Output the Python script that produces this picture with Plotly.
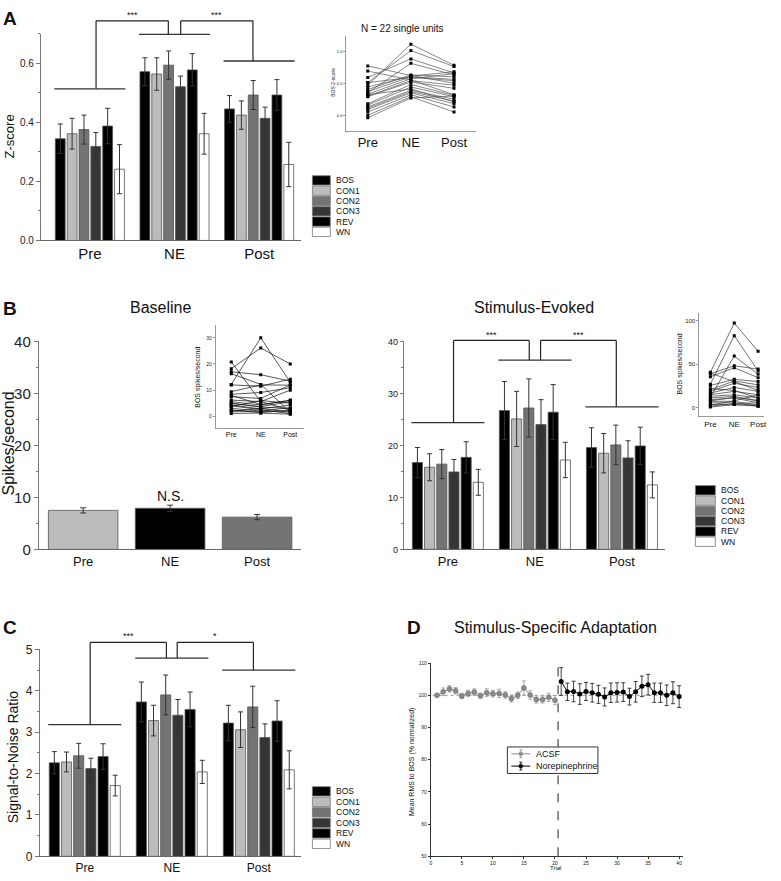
import plotly.graph_objects as go

W, H = 781, 881
FONT = "Liberation Sans, Arial, sans-serif"

groups = ["Pre", "NE", "Post"]
stimuli = ["BOS", "CON1", "CON2", "CON3", "REV", "WN"]
stim_colors = ["#000000", "#bcbcbc", "#747474", "#363636", "#000000", "#ffffff"]

# ---------------- Panel A : Z-score ----------------
zscore_mean = [
    [0.344, 0.571, 0.445],
    [0.361, 0.563, 0.424],
    [0.375, 0.593, 0.492],
    [0.318, 0.520, 0.413],
    [0.387, 0.577, 0.492],
    [0.241, 0.361, 0.257],
]
zscore_sem = [
    [0.050, 0.047, 0.045],
    [0.052, 0.055, 0.048],
    [0.049, 0.048, 0.049],
    [0.047, 0.036, 0.038],
    [0.060, 0.055, 0.052],
    [0.083, 0.069, 0.075],
]
zscore_bracket_levels = [0.513, 0.697, 0.607]
zscore_bracket_top = 0.743
zscore_stars = ["***", "***"]

# inset A: BOS z-score per single unit (Pre, NE, Post)
units_zscore = [
    (0.48, 1.12, 0.79), (0.52, 1.02, 0.77), (0.60, 0.89, 0.67), (0.36, 0.82, 0.64),
    (0.78, 0.63, 0.51), (0.70, 0.56, 0.33), (0.41, 0.64, 0.61), (0.38, 0.61, 0.57),
    (0.34, 0.58, 0.66), (0.31, 0.55, 0.48), (0.30, 0.53, 0.43), (0.19, 0.49, 0.32),
    (0.17, 0.45, 0.30), (0.14, 0.40, 0.26), (0.12, 0.38, 0.23), (0.10, 0.36, 0.19),
    (0.06, 0.33, 0.14), (0.01, 0.30, 0.06), (-0.03, 0.28, 0.31), (0.45, 0.62, 0.69),
    (0.33, 0.42, 0.22), (0.52, 0.60, 0.55),
]

# ---------------- Panel B : Baseline ----------------
baseline_mean = [7.5, 7.9, 6.2]
baseline_sem = [0.5, 0.6, 0.5]
baseline_colors = ["#bcbcbc", "#000000", "#747474"]
units_baseline = [
    (12.2, 30.0, 13.0), (18.2, 26.1, 20.0), (20.8, 5.6, 2.4), (17.0, 15.9, 13.4),
    (16.3, 12.2, 1.5), (12.0, 11.5, 14.2), (9.4, 12.0, 11.9), (8.4, 9.1, 10.9),
    (7.5, 6.8, 12.0), (6.2, 5.6, 10.0), (5.6, 4.3, 6.2), (4.9, 3.7, 5.6),
    (4.3, 2.8, 4.3), (3.7, 6.0, 5.0), (3.0, 2.0, 3.3), (2.4, 1.4, 2.4),
    (1.8, 3.0, 1.5), (1.1, 1.2, 0.8), (8.0, 4.5, 6.0), (4.0, 2.5, 1.0),
    (2.0, 1.8, 2.0), (5.0, 3.5, 3.0),
]

# ---------------- Panel B : Stimulus-evoked ----------------
evoked_mean = [
    [16.7, 26.7, 19.6],
    [15.8, 25.1, 18.5],
    [16.4, 27.2, 20.1],
    [14.9, 24.0, 17.6],
    [17.7, 26.4, 19.9],
    [12.9, 17.2, 12.4],
]
evoked_sem = [
    [2.9, 5.6, 3.8],
    [2.6, 5.3, 3.8],
    [2.8, 5.6, 3.8],
    [2.4, 4.8, 3.3],
    [3.0, 5.3, 3.6],
    [2.5, 3.4, 2.5],
]
evoked_bracket_levels = [24.4, 36.4, 27.4]
evoked_bracket_top = 40.2
evoked_stars = ["***", "***"]
units_evoked = [
    (40.8, 97.4, 64.9), (27.2, 83.0, 42.3), (12.0, 59.6, 38.5), (39.2, 48.3, 44.5),
    (35.8, 46.0, 34.7), (25.7, 32.8, 30.2), (20.8, 30.9, 26.4), (18.9, 28.3, 23.4),
    (17.0, 23.4, 18.9), (15.1, 18.9, 15.1), (13.2, 15.1, 11.3), (11.3, 13.2, 8.3),
    (9.4, 11.3, 5.7), (7.5, 7.5, 3.0), (5.7, 5.7, 1.9), (3.8, 3.8, 3.0),
    (1.9, 5.0, 5.7), (0.8, 3.8, 1.9), (40.0, 30.0, 20.0), (22.0, 20.0, 11.3),
    (8.0, 12.0, 8.0), (3.0, 8.0, 15.0),
]

# ---------------- Panel C : SNR ----------------
snr_mean = [
    [2.26, 3.73, 3.22],
    [2.28, 3.28, 3.06],
    [2.43, 3.90, 3.61],
    [2.12, 3.41, 2.87],
    [2.41, 3.55, 3.27],
    [1.71, 2.04, 2.09],
]
snr_sem = [
    [0.27, 0.48, 0.43],
    [0.24, 0.37, 0.43],
    [0.30, 0.48, 0.50],
    [0.25, 0.38, 0.33],
    [0.31, 0.42, 0.49],
    [0.25, 0.28, 0.46],
]
snr_bracket_levels = [3.18, 4.79, 4.50]
snr_bracket_top = 5.17
snr_stars = ["***", "*"]

# ---------------- Panel D : SSA ----------------
acsf_trials = list(range(1, 21))
acsf_mean = [100.0, 101.1, 102.0, 101.4, 99.8, 100.6, 101.0, 99.9, 100.8, 100.5,
             100.6, 100.1, 99.0, 100.0, 102.3, 100.1, 98.7, 98.7, 99.4, 98.5]
acsf_sem = [0.3, 1.2, 1.0, 1.0, 0.8, 1.0, 1.0, 0.8, 1.2, 1.0,
            1.3, 1.0, 1.1, 1.0, 2.2, 1.3, 1.1, 1.1, 1.3, 1.4]
ne_trials = list(range(21, 41))
ne_mean = [104.3, 101.1, 101.2, 100.4, 101.2, 100.8, 100.3, 99.5, 100.8, 100.9,
           101.0, 99.6, 101.1, 102.8, 103.3, 100.8, 100.8, 100.0, 100.8, 99.6]
ne_sem = [4.3, 2.7, 3.2, 3.2, 2.8, 2.9, 2.8, 2.8, 3.0, 3.0,
          2.9, 2.6, 3.2, 3.2, 3.2, 3.0, 3.0, 3.2, 3.4, 3.4]
switch_trial = 20.5
ssa_series = ["ACSF", "Norepinephrine"]
ssa_colors = ["#8a8a8a", "#000000"]

# ---------------- layout geometry (pixels) ----------------
boxes = {
    1: dict(x=(40, 302), y=(25, 236), xr=(-0.58, 2.5), yr=(0, 0.7)),        # A
    2: dict(x=(347, 477), y=(28, 124), xr=(-0.5, 2.5), yr=(-0.23, 1.24)),    # A inset
    3: dict(x=(38, 302), y=(339, 551), xr=(-0.51, 2.51), yr=(0, 40)),        # B baseline
    4: dict(x=(216, 305), y=(322, 427), xr=(-0.52, 2.48), yr=(-4.4, 35)),    # B inset 1
    5: dict(x=(405, 667), y=(339, 551), xr=(-0.505, 2.49), yr=(0, 40)),      # B evoked
    6: dict(x=(702, 767), y=(310, 415), xr=(-0.46, 2.25), yr=(-9.4, 109)),   # B inset 2
    7: dict(x=(39, 302), y=(653, 864), xr=(-0.517, 2.49), yr=(0, 5)),        # C
    8: dict(x=(432, 686), y=(667, 864), xr=(0, 40.7), yr=(50, 110)),         # D
}


def dom_x(b):
    return [b["x"][0] / W, b["x"][1] / W]


def dom_y(b):
    return [1 - b["y"][1] / H, 1 - b["y"][0] / H]


def to_px(k, xv, yv):
    b = boxes[k]
    x0, x1 = b["x"]; y0, y1 = b["y"]
    xr0, xr1 = b["xr"]; yr0, yr1 = b["yr"]
    px = x0 + (xv - xr0) / (xr1 - xr0) * (x1 - x0)
    py = y1 - (yv - yr0) / (yr1 - yr0) * (y1 - y0)
    return px, py


def paper(px, py):
    return px / W, 1 - py / H


fig = go.Figure()
shapes = []
annotations = []


def ann(text, px, py, size, bold=False, angle=0, xanchor="center", yanchor="middle", color="#111"):
    x, y = paper(px, py)
    annotations.append(dict(
        text=f"<b>{text}</b>" if bold else text, x=x, y=y, xref="paper", yref="paper",
        showarrow=False, textangle=angle, xanchor=xanchor, yanchor=yanchor,
        font=dict(family=FONT, size=size, color=color)))


def line_px(x0, y0, x1, y1, color="#222", width=1.2, dash=None):
    a, b = paper(x0, y0)
    c, d = paper(x1, y1)
    ln = dict(color=color, width=width)
    if dash:
        ln["dash"] = dash
    shapes.append(dict(type="line", xref="paper", yref="paper", x0=a, y0=b, x1=c, y1=d, line=ln))


def grouped_bars(k, means, sems):
    for i, name in enumerate(stimuli):
        fig.add_trace(go.Bar(
            x=groups, y=means[i], name=name, xaxis=f"x{k}", yaxis=f"y{k}",
            marker=dict(color=stim_colors[i], line=dict(color="#555", width=0.8)),
            error_y=dict(type="data", array=sems[i], color="#333", thickness=1, width=2.5),
            showlegend=False))


def brackets(k, levels, top, stars, dx_in=0.066, half=0.42):
    for g, lv in enumerate(levels):
        xa, ya = to_px(k, g - half, lv)
        xb, _ = to_px(k, g + half, lv)
        line_px(xa, ya, xb, ya, color="#333", width=1.3)
    _, ytop = to_px(k, 0, top)
    for j in range(2):
        xl, yl = to_px(k, j + dx_in, levels[j])
        xr_, yr_ = to_px(k, j + 1 - dx_in, levels[j + 1])
        line_px(xl, yl, xl, ytop)
        line_px(xl, ytop, xr_, ytop)
        line_px(xr_, ytop, xr_, yr_)
        ann(stars[j], (xl + xr_) / 2, ytop - 6, 9)


def swatch_legend(x0, top, row_h, sw_w, sw_h, size):
    for i, name in enumerate(stimuli):
        yt = top + i * row_h
        a, b = paper(x0, yt)
        c, d = paper(x0 + sw_w, yt + sw_h)
        shapes.append(dict(type="rect", xref="paper", yref="paper", x0=a, y0=b, x1=c, y1=d,
                           fillcolor=stim_colors[i], line=dict(color="#777", width=0.8)))
        ann(name, x0 + sw_w + 4, yt + sw_h / 2, size, xanchor="left")


def unit_lines(k, units, color, msize):
    xs, ys = [], []
    for u in units:
        xs += [0, 1, 2, None]
        ys += [u[0], u[1], u[2], None]
    fig.add_trace(go.Scatter(
        x=xs, y=ys, mode="lines+markers", xaxis=f"x{k}", yaxis=f"y{k}",
        line=dict(color=color, width=0.7), marker=dict(symbol="square", size=msize, color="#000"),
        showlegend=False, connectgaps=False))


# ---- Panel A
grouped_bars(1, zscore_mean, zscore_sem)
brackets(1, zscore_bracket_levels, zscore_bracket_top, zscore_stars, dx_in=0.073)
swatch_legend(313, 170, 10.5, 18, 9.5, 8.5)
unit_lines(2, units_zscore, "#555", 3)

# ---- Panel B baseline
fig.add_trace(go.Bar(
    x=groups, y=baseline_mean, xaxis="x3", yaxis="y3", width=0.8,
    marker=dict(color=baseline_colors, line=dict(color="#555", width=0.8)),
    error_y=dict(type="data", array=baseline_sem, color="#333", thickness=1, width=3),
    showlegend=False))
unit_lines(4, units_baseline, "#111", 3)

# ---- Panel B evoked
grouped_bars(5, evoked_mean, evoked_sem)
brackets(5, evoked_bracket_levels, evoked_bracket_top, evoked_stars, dx_in=0.065)
swatch_legend(698, 486, 10.5, 20, 9.5, 8.5)
unit_lines(6, units_evoked, "#333", 3)

# ---- Panel C
grouped_bars(7, snr_mean, snr_sem)
brackets(7, snr_bracket_levels, snr_bracket_top, snr_stars, dx_in=0.062)
swatch_legend(313, 793, 10.7, 18, 9.5, 8.5)

# ---- Panel D
fig.add_trace(go.Scatter(
    x=acsf_trials, y=acsf_mean, name=ssa_series[0], mode="lines+markers", xaxis="x8", yaxis="y8",
    line=dict(color=ssa_colors[0], width=1),
    marker=dict(color=ssa_colors[0], size=5, line=dict(color="#666", width=0.5)),
    error_y=dict(type="data", array=acsf_sem, color="#9a9a9a", thickness=0.8, width=2),
    showlegend=False))
fig.add_trace(go.Scatter(
    x=ne_trials, y=ne_mean, name=ssa_series[1], mode="lines+markers", xaxis="x8", yaxis="y8",
    line=dict(color=ssa_colors[1], width=1), marker=dict(color=ssa_colors[1], size=5),
    error_y=dict(type="data", array=ne_sem, color="#111", thickness=0.8, width=2),
    showlegend=False))
shapes.append(dict(type="line", xref="x8", yref="y8", x0=0.3, x1=40.5, y0=100, y1=100,
                   line=dict(color="#999", width=1, dash="dot"), layer="below"))
shapes.append(dict(type="line", xref="x8", yref="y8", x0=switch_trial, x1=switch_trial, y0=50, y1=109.5,
                   line=dict(color="#222", width=1, dash="dash")))

# legend box for panel D (drawn by hand)
lb = paper(509, 752.5)
le = paper(600, 779.5)
shapes.append(dict(type="rect", xref="paper", yref="paper", x0=lb[0], y0=lb[1], x1=le[0], y1=le[1],
                   fillcolor="white", line=dict(color="#333", width=1)))
for i, name in enumerate(ssa_series):
    yc = 759.5 + i * 12.5
    col = ssa_colors[i]
    line_px(513, yc, 532, yc, color=col, width=1)
    line_px(522.5, yc - 4, 522.5, yc + 4, color=col, width=0.8)
    line_px(521, yc - 4, 524, yc - 4, color=col, width=0.8)
    line_px(521, yc + 4, 524, yc + 4, color=col, width=0.8)
    c0 = paper(520.5, yc - 2)
    c1 = paper(524.5, yc + 2)
    shapes.append(dict(type="circle", xref="paper", yref="paper", x0=c0[0], y0=c0[1], x1=c1[0], y1=c1[1],
                       fillcolor=col, line=dict(color=col, width=0.5)))
    ann(name, 536, yc, 9, xanchor="left")

# ---------------- text ----------------
ann("A", 9, 10, 19, bold=True)
ann("B", 9, 305, 19, bold=True)
ann("C", 9, 631, 19, bold=True)
ann("D", 415, 631, 19, bold=True)
ann("Baseline", 160, 304, 16)
ann("Stimulus-Evoked", 536, 304, 16)
ann("Stimulus-Specific Adaptation", 557, 631, 16)
ann("N = 22 single units", 404, 20, 10)
ann("N.S.", 170, 497, 14)
ann("Z-score", 9, 130, 13, angle=-90)
ann("Spikes/second", 7, 443, 16, angle=-90)
ann("Signal-to-Noise Ratio", 12, 763, 14, angle=-90)
ann("BOS Z-score", 333, 75, 5, angle=-90)
ann("BOS spikes/second", 198, 375, 7, angle=-90)
ann("BOS spikes/second", 683, 362, 7, angle=-90)
ann("Mean RMS to BOS (% normalized)", 413, 767, 7, angle=-90)
ann("Trial", 557, 876, 6)

# ---------------- axes ----------------
layout_axes = {}


def set_axes(k, ydtick, yfont, xfont, tickformat=None, yminor=None, ycolor="#777",
             xcolor="#666", xticklen=0, yticklen=4, xnumeric=False, xdtick=None):
    b = boxes[k]
    xa = dict(domain=dom_x(b), range=list(b["xr"]), anchor=f"y{k}", showline=True,
              linecolor=xcolor, linewidth=1, showgrid=False, zeroline=False,
              ticks="outside" if xticklen else "", ticklen=xticklen, tickcolor=xcolor,
              tickfont=dict(family=FONT, size=xfont, color="#111"), fixedrange=True)
    if xnumeric:
        if xdtick:
            xa.update(dtick=xdtick, tick0=0)
        else:
            xa.update(tickmode="array", tickvals=[0, 1, 2], ticktext=groups)
    ya = dict(domain=dom_y(b), range=list(b["yr"]), anchor=f"x{k}", showline=True,
              linecolor=ycolor, linewidth=1, showgrid=False, zeroline=False,
              ticks="outside", ticklen=yticklen, tickcolor=ycolor, dtick=ydtick, tick0=0,
              tickfont=dict(family=FONT, size=yfont, color="#222"), fixedrange=True)
    if tickformat:
        ya["tickformat"] = tickformat
    if yminor:
        ya["minor"] = dict(dtick=yminor, tick0=0, ticks="outside", ticklen=max(2, yticklen // 2),
                           tickcolor=ycolor, showgrid=False)
    name = "" if k == 1 else str(k)
    layout_axes[f"xaxis{name}"] = xa
    layout_axes[f"yaxis{name}"] = ya


set_axes(1, 0.2, 10, 15, tickformat=".1f", yminor=0.1)
set_axes(2, 0.5, 4, 13, tickformat=".1f", yticklen=2, xnumeric=True, ycolor="#999", xcolor="#999")
set_axes(3, 10, 15, 13, yminor=5)
set_axes(4, 10, 5, 7, yticklen=2, xnumeric=True, ycolor="#999", xcolor="#999")
set_axes(5, 10, 9, 13, yminor=5, yticklen=3)
set_axes(6, 50, 6, 8, yticklen=2, xnumeric=True, ycolor="#999", xcolor="#999")
set_axes(7, 1, 12, 12, yminor=0.5)
set_axes(8, 10, 5, 5, yticklen=2, xnumeric=True, xdtick=5, xticklen=2, ycolor="#333", xcolor="#333")

fig.update_layout(
    width=W, height=H, margin=dict(l=0, r=0, t=0, b=0),
    paper_bgcolor="white", plot_bgcolor="white",
    barmode="group", bargap=0.16, bargroupgap=0.17,
    font=dict(family=FONT, color="#111"),
    shapes=shapes, annotations=annotations,
    showlegend=False,
    **layout_axes,
)

fig.write_html("out.html", config={"displayModeBar": False},
               post_script="document.body.style.margin='0';document.body.style.overflow='hidden';")
